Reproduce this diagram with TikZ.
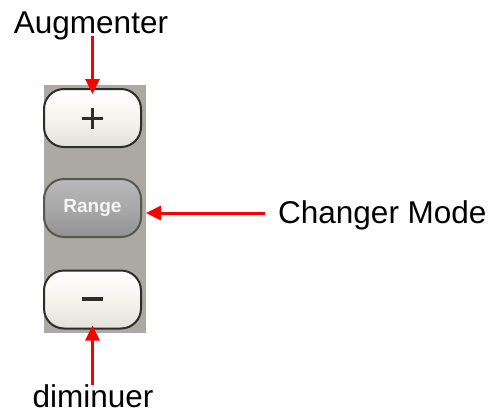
\documentclass[tikz,border=0pt]{standalone}
\usepackage{fontspec}
\setmainfont{Liberation Sans}
\usetikzlibrary{arrows.meta}
\definecolor{panelgray}{RGB}{172,169,162}
\definecolor{btncream}{RGB}{246,244,236}
\definecolor{btnedge}{RGB}{45,45,42}
\definecolor{arrowred}{RGB}{250,0,0}
\tikzset{
  lbl/.style={font=\fontsize{31.5}{36}\selectfont, inner sep=0pt, anchor=base},
  btn/.style={draw=btnedge, line width=2pt, rounded corners=20pt, minimum width=97pt, minimum height=58pt, inner sep=0pt, top color=white, bottom color=btncream!92!black, middle color=btncream},
  rangebtn/.style={draw=btnedge!80, line width=2pt, rounded corners=20pt, minimum width=97pt, minimum height=58pt, inner sep=0pt, top color=gray!55, bottom color=gray!85, middle color=gray!68, text=white!92!gray, font=\fontsize{19}{22}\selectfont\bfseries},
  redarrow/.style={draw=arrowred, line width=3pt, -{Triangle[width=14pt,length=15pt]}}
}
\begin{document}
\begin{tikzpicture}[x=1pt,y=-1pt]
\useasboundingbox (0,0) rectangle (491,413);
\fill[panelgray] (44,85) rectangle (146,333);
\node[btn] (plus) at (92.5,118) {};
\node[rangebtn] (range) at (92.5,208) {Range};
\node[btn] (minus) at (92.5,299.5) {};
\draw[btnedge, line width=3pt] (82,118) -- (103,118) (92.5,107.5) -- (92.5,128.5);
\draw[btnedge, line width=4.5pt] (82,299) -- (103,299);
\node[lbl] (aug) at (91,33) {Augmenter};
\node[lbl, anchor=base west] (chg) at (278,223) {Changer Mode};
\node[lbl] (dim) at (93,407) {diminuer};
\coordinate (augtail) at (aug.base -| plus.center);
\draw[redarrow] ([yshift=-3pt]augtail) -- ([yshift=-6pt]plus.north);
\coordinate (rangetip) at ([xshift=4pt,yshift=-5pt]range.east);
\draw[redarrow] ([xshift=-13pt]chg.west |- rangetip) -- (rangetip);
\coordinate (dimtail) at (dim.north -| minus.center);
\draw[redarrow] ([yshift=-1pt]dimtail) -- ([yshift=4pt]minus.south);
\end{tikzpicture}
\end{document}
